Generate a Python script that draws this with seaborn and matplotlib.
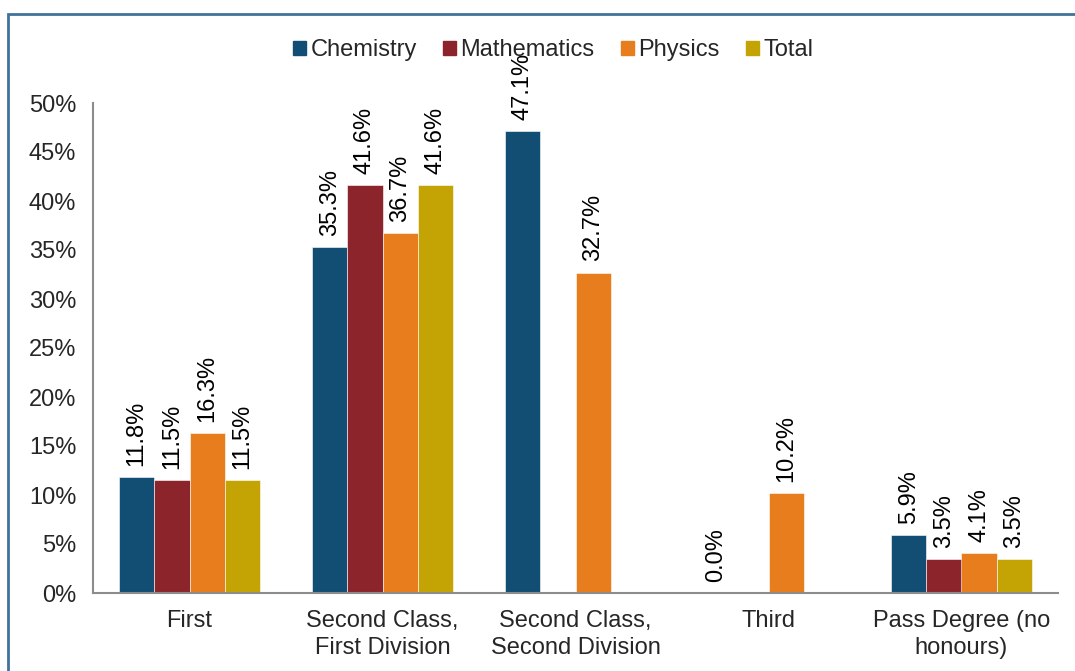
import pandas as pd
import numpy as np
import matplotlib.pyplot as plt
import seaborn as sns
from matplotlib.patches import Rectangle
from matplotlib.ticker import FuncFormatter

# dados
categorias = ['First', 'Second Class,\nFirst Division', 'Second Class,\nSecond Division',
              'Third', 'Pass Degree (no\nhonours)']
chemistry = [11.8, 35.3, 47.1, 0.0, 5.9]
mathematics = [11.5, 41.6, np.nan, np.nan, 3.5]
physics = [16.3, 36.7, 32.7, 10.2, 4.1]
total = [11.5, 41.6, np.nan, np.nan, 3.5]

series = ['Chemistry', 'Mathematics', 'Physics', 'Total']
cores = ['#124E74', '#8B252B', '#E87D1E', '#C4A304']

df = pd.DataFrame({'Chemistry': chemistry, 'Mathematics': mathematics,
                   'Physics': physics, 'Total': total}, index=categorias)
df = df.reset_index().melt(id_vars='index', var_name='subject', value_name='pct')
df = df.rename(columns={'index': 'category'})

sns.set_style('white')
plt.rcParams['font.family'] = ['Liberation Sans', 'DejaVu Sans']
fs = 17

fig = plt.figure(figsize=(10.75, 6.71), dpi=100)
ax = fig.add_axes([93 / 1075, 1 - 593 / 671, (1058 - 93) / 1075, (593 - 103) / 671])

sns.barplot(data=df, x='category', y='pct', hue='subject', order=categorias,
            hue_order=series, palette=cores, width=0.73, errorbar=None,
            saturation=1, edgecolor='white', linewidth=0.4, ax=ax)

for c in ax.containers:
    ax.bar_label(c, labels=[f'{v:.1f}%' for v in c.datavalues], rotation=90,
                 padding=8, fontsize=fs, color='black')

ax.set_ylim(0, 50)
ax.set_yticks(np.arange(0, 51, 5))
ax.yaxis.set_major_formatter(FuncFormatter(lambda v, p: f'{v:.0f}%'))
ax.set_xlim(-0.5, len(categorias) - 0.5)
ax.set_xticks(np.arange(len(categorias)))
ax.set_xticklabels(categorias, fontsize=fs, linespacing=1.3)
ax.set_xticks(np.arange(len(categorias) + 1) - 0.5, minor=True)
ax.tick_params(axis='x', which='major', length=0, pad=12)
ax.tick_params(axis='x', which='minor', length=6, color='#8C8C8C', width=1.5)
ax.tick_params(axis='y', length=6, color='#8C8C8C', width=1.5, labelsize=fs, pad=6)
ax.set_xlabel('')
ax.set_ylabel('')

for s in ['top', 'right']:
    ax.spines[s].set_visible(False)
for s in ['left', 'bottom']:
    ax.spines[s].set_color('#8C8C8C')
    ax.spines[s].set_linewidth(1.5)

ax.get_legend().remove()
handles = [Rectangle((0, 0), 1, 1, color=c) for c in cores]
fig.legend(handles, series, loc='center', bbox_to_anchor=(553 / 1075, 1 - 50 / 671),
           ncol=4, frameon=False, fontsize=fs, handlelength=0.55, handleheight=0.55,
           handletextpad=0.2, columnspacing=1.1)

# moldura azul (só topo e esquerda visíveis)
fig.patches.append(Rectangle((8 / 1075, -0.05), 1.2, 1 - 14 / 671 + 0.05,
                             transform=fig.transFigure, fill=False,
                             edgecolor='#41729A', linewidth=2))

fig.savefig('out.png', dpi=100)
